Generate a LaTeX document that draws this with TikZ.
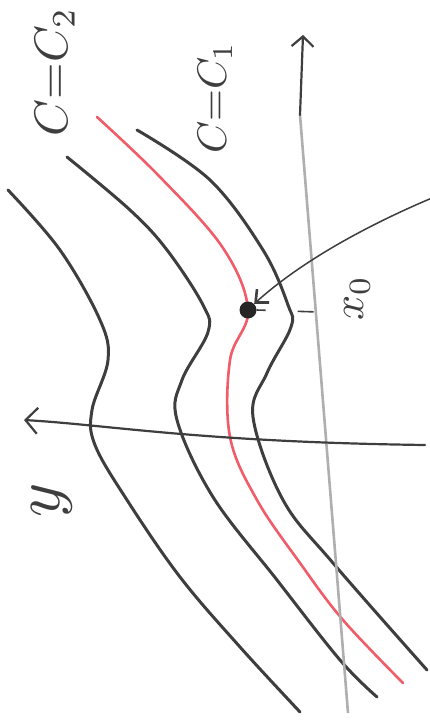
\documentclass[tikz,border=0pt]{standalone}
\usetikzlibrary{arrows.meta}
\definecolor{inkgray}{RGB}{62,62,62}
\definecolor{pencil}{RGB}{175,175,178}
\definecolor{redlevel}{RGB}{240,92,104}

\begin{document}
\begin{tikzpicture}[x=1pt, y=-1pt,
        level/.style={draw=inkgray, line width=3pt, line cap=round},
        redcurve/.style={draw=redlevel, line width=2.6pt, line cap=round},
        axis/.style={draw=inkgray, line width=2.2pt, line cap=round},
        lbl/.style={text=inkgray, rotate=90, inner sep=0pt},
        point/.style={circle, fill=black!85, inner sep=0pt, minimum size=17pt}
    ]
    \useasboundingbox (0,0) rectangle (430,727);
    % level curves
    \draw[level] plot[smooth, tension=0.6] coordinates {(8,190) (60,250) (100,320) (108,360) (92,410) (95,445) (127,500) (180,577) (240,647) (300,712)};
    \draw[level] plot[smooth, tension=0.6] coordinates {(67,157) (130,210) (167,250) (203,305) (208,332) (182,380) (177,420) (213,497) (277,580) (340,660) (377,697)};
    \draw[level] plot[smooth, tension=0.6] coordinates {(137,130) (210,180) (263,250) (288,305) (291,327) (267,373) (253,417) (283,500) (333,563) (427,670)};
    \draw[redcurve] plot[smooth, tension=0.6] coordinates {(97,117) (160,177) (223,248) (248,310) (230,360) (230,437) (257,500) (300,563) (343,620) (403,683)};
    % axes
    \coordinate (xbot) at (348,713);
    \coordinate (xmid) at (300,115);
    \coordinate (xtop) at (303,35);
    \coordinate (yright) at (425,445);
    \coordinate (yleft) at (24,420);
    \draw[draw=pencil, line width=2.6pt] (xbot) -- (xmid);
    \draw[axis, -{Straight Barb[length=10pt, width=22pt]}] (xmid) -- (xtop);
    \draw[axis, -{Straight Barb[length=12pt, width=26pt]}] (yright) .. controls (200,442) and (110,425) .. (yleft);
    % point and its projection
    \node[point] (x0) at (248,310) {};
    \coordinate (x0foot) at (318,312);
    \coordinate (src) at (432,198);
    \draw[inkgray, line width=1.6pt, dash pattern=on 9pt off 32pt on 16pt off 40pt] (x0.east) -- (x0foot);
    \draw[inkgray, line width=1.5pt, -{Straight Barb[length=10pt, width=18pt, line width=2.6pt]}] (src) .. controls (375,222) and (305,258) .. (x0.north east);
    % labels
    \node[lbl, scale=4.7] (c2) at (55,72) {$C{=}C_2$};
    \node[lbl, scale=4.1] (c1) at (215,98) {$C{=}C_1$};
    \node[lbl, scale=4.4] (x0lbl) at (357,298) {$x_0$};
    \node[lbl, scale=6.5] (ylbl) at (52,500) {$y$};
\end{tikzpicture}
\end{document}
